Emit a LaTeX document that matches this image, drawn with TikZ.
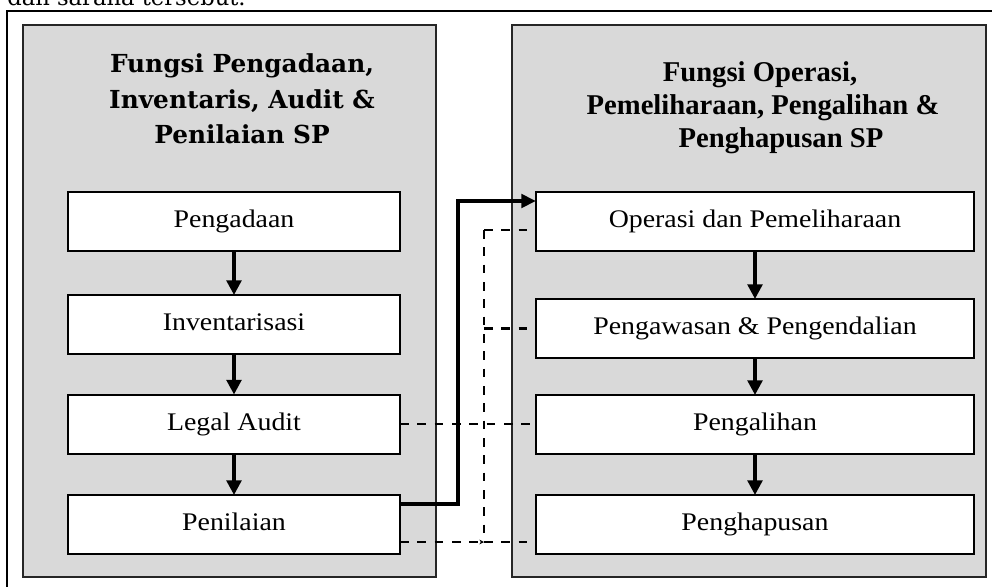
\documentclass[tikz,border=0pt]{standalone}
\usepackage{fontspec}
\setmainfont{Liberation Serif}
\newfontfamily\boxfont[FakeStretch=1.1]{Liberation Serif}
\newfontfamily\headfont{Liberation Serif}
\newfontfamily\bookfont{DejaVu Serif}
\usetikzlibrary{arrows.meta,calc}

\definecolor{panelgray}{RGB}{217,217,217}

\tikzset{
  panel/.style={draw=black!85, line width=1.2pt, fill=panelgray,
    inner sep=0pt, outer sep=0pt},
  stepbox/.style={draw=black, line width=1.5pt, fill=white,
    inner sep=0pt, outer sep=0pt, text height=13pt, text depth=4pt,
    font=\boxfont\fontsize{19}{22}\selectfont},
  leftbox/.style={stepbox, minimum width=249pt, minimum height=44.25pt},
  rightbox/.style={stepbox, minimum width=328.5pt, minimum height=44.25pt},
  flow/.style={line width=2.6pt, -{Triangle[length=11pt,width=11pt]}},
  mainlink/.style={line width=3pt, -{Triangle[length=11pt,width=10pt]}},
  dashline/.style={line width=1.6pt, dash pattern=on 6.5pt off 6.5pt},
  lefthead/.style={anchor=base, inner sep=0pt,
    font=\bookfont\bfseries\fontsize{18.6}{22}\selectfont},
  righthead/.style={anchor=base, inner sep=0pt,
    font=\headfont\bfseries\fontsize{21.5}{24}\selectfont},
}

\begin{document}
\begin{tikzpicture}[x=0.75pt,y=-0.75pt]
\useasboundingbox (0,0) rectangle (992,586);

% running text above the frame
\node[anchor=base west, inner sep=0pt] (runtext) at (7,5)
  {\bookfont\fontsize{17}{20}\selectfont dan sarana tersebut.};

% outer frame
\coordinate (frameTL) at (7,11);
\draw[line width=1.5pt] (frameTL |- 0,600) -- (frameTL) -- (1000,11);

% the two function panels
\node[panel, minimum width=309.75pt, minimum height=414pt] (leftpanel) at (229.5,301) {};
\node[panel, minimum width=355.5pt, minimum height=414pt] (rightpanel) at (749,301) {};

% panel headings
\node[lefthead] (lh1) at (242,72)  {Fungsi Pengadaan,};
\node[lefthead] (lh2) at (242,108) {Inventaris, Audit \&};
\node[lefthead] (lh3) at (242,143) {Penilaian SP};

\node[righthead] (rh1) at (760,81)  {Fungsi Operasi,};
\node[righthead] (rh2) at (763,114) {Pemeliharaan, Pengalihan \&};
\node[righthead] (rh3) at (781,147) {Penghapusan SP};

% left column steps
\node[leftbox] (pgd) at (234,221.5) {Pengadaan};
\node[leftbox] (inv) at (234,324.5) {Inventarisasi};
\node[leftbox] (lau) at (234,424)   {Legal Audit};
\node[leftbox] (pen) at (234,524.5) {Penilaian};

% right column steps
\node[rightbox] (ops) at (755,221.5) {Operasi dan Pemeliharaan};
\node[rightbox] (pwk) at (755,328.5) {Pengawasan \& Pengendalian};
\node[rightbox] (pal) at (755,424.5) {Pengalihan};
\node[rightbox] (phs) at (755,524.5) {Penghapusan};

% sequence arrows
\draw[flow] (pgd) -- (inv);
\draw[flow] (inv) -- (lau);
\draw[flow] (lau) -- (pen);
\draw[flow] (ops) -- (pwk);
\draw[flow] (pwk) -- (pal);
\draw[flow] (pal) -- (phs);

% main transfer from valuation to operation
\coordinate (linkstart) at ([yshift=15.4pt]pen.east);
\coordinate (linkend) at ([yshift=-6.75pt]ops.north west);
\coordinate (bend) at (458,0);
\draw[mainlink] (linkstart) -| (bend |- linkend) -- (linkend);

% dashed coordination lines
\coordinate (dtop) at (484,230);
\coordinate (dbot) at (484,542);
\draw[dashline] (dtop) -- (dbot);
\draw[dashline] (dtop) -- (ops.west |- dtop);
\draw[dashline] (pwk.west -| dtop) -- (pwk.west);
\draw[dashline] (lau.east) -- (lau.east -| pal.west);
\draw[dashline, -{Stealth[length=3.5pt,width=3.5pt]}] (pen.east |- dbot) -- (dbot);
\draw[dashline] (dbot) -- (phs.west |- dbot);
\end{tikzpicture}
\end{document}
